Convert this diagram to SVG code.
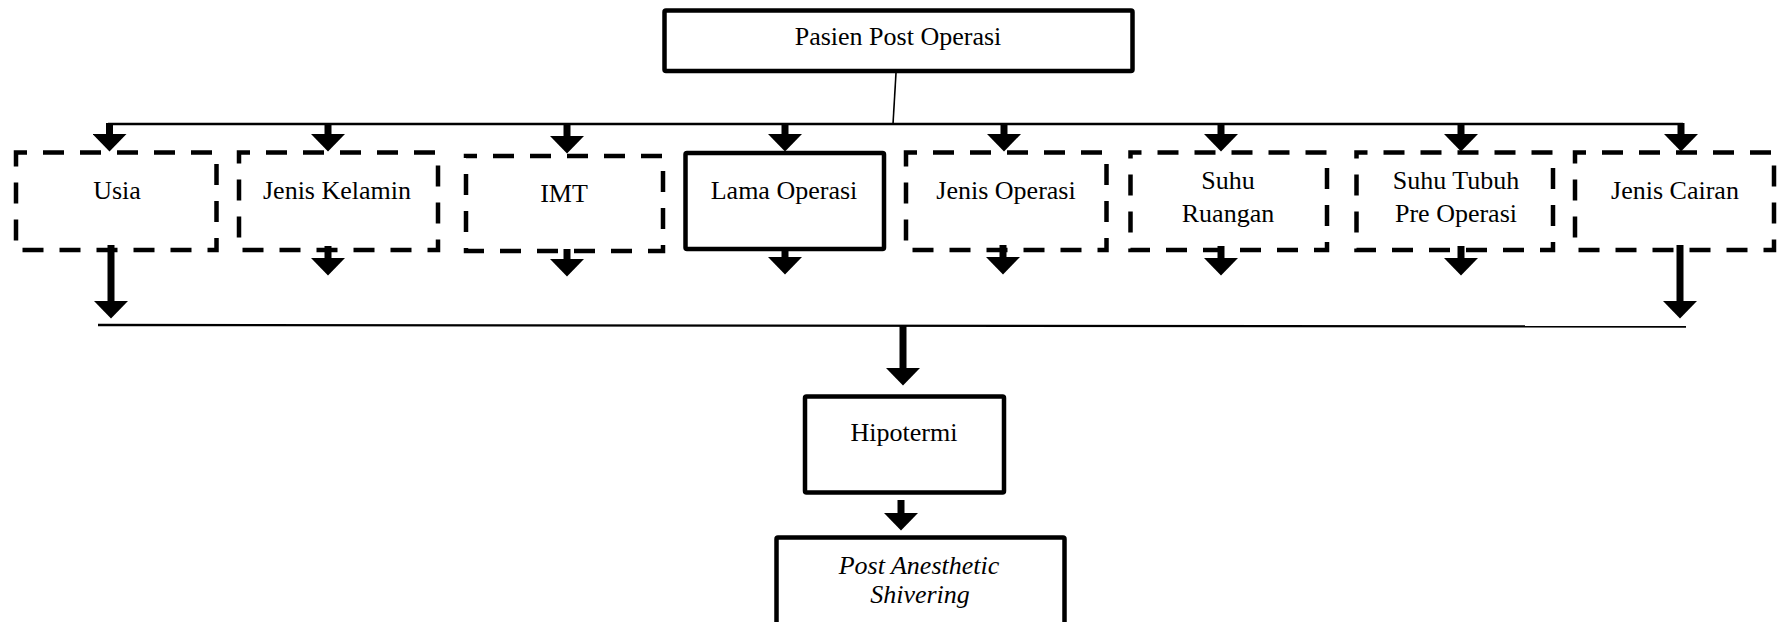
<svg xmlns="http://www.w3.org/2000/svg" width="1780" height="622" viewBox="0 0 1780 622">
<style>
.solid{fill:none;stroke:#000;stroke-width:4.5;stroke-linejoin:round}
.dash{fill:none;stroke:#000;stroke-width:4.5;stroke-dasharray:21 16;stroke-dashoffset:10}
.t{font-family:"Liberation Serif","Times New Roman",serif;font-size:26px;fill:#000;text-anchor:middle}
.i{font-style:italic}
.thin{stroke:#000;stroke-width:1.6;fill:none}
.line{stroke:#000;stroke-width:2.4;fill:none}
.arr{stroke:#000;stroke-width:7;fill:none;marker-end:url(#ah)}
</style>
<defs>
<marker id="ah" markerUnits="userSpaceOnUse" markerWidth="18" markerHeight="34" viewBox="0 0 17 33" refX="0" refY="16.5" orient="auto">
<path d="M0,0 L17,16.5 L0,33 z" fill="#000"/>
</marker>
</defs>
<rect width="1780" height="622" fill="#fff"/>

<g id="connectors">
<line class="thin" x1="896" y1="73" x2="893" y2="124"/>
<line class="line" x1="108" y1="124" x2="1683" y2="124"/>
<line class="arr" x1="109.5" y1="123" x2="109.5" y2="134"/>
<line class="arr" x1="328" y1="123" x2="328" y2="134"/>
<line class="arr" x1="567" y1="123" x2="567" y2="136"/>
<line class="arr" x1="785" y1="123" x2="785" y2="134"/>
<line class="arr" x1="1004" y1="123" x2="1004" y2="134"/>
<line class="arr" x1="1221" y1="123" x2="1221" y2="134"/>
<line class="arr" x1="1461" y1="123" x2="1461" y2="134"/>
<line class="arr" x1="1681" y1="123" x2="1681" y2="134"/>

<line class="arr" x1="111" y1="245" x2="111" y2="301"/>
<line class="arr" x1="328" y1="246" x2="328" y2="258"/>
<line class="arr" x1="567" y1="249" x2="567" y2="259"/>
<line class="arr" x1="785" y1="247" x2="785" y2="257"/>
<line class="arr" x1="1003" y1="245" x2="1003" y2="257"/>
<line class="arr" x1="1221" y1="246" x2="1221" y2="258"/>
<line class="arr" x1="1461" y1="246" x2="1461" y2="258"/>
<line class="arr" x1="1680" y1="245" x2="1680" y2="301"/>

<line class="line" x1="98" y1="325" x2="1686" y2="326.5"/>
<line class="arr" x1="903" y1="325" x2="903" y2="368"/>
<line class="arr" x1="901" y1="500" x2="901" y2="513"/>
</g>

<g id="pasien">
<rect class="solid" x="664.5" y="10.5" width="468" height="60.5" rx="1.5"/>
<text class="t" x="898" y="45">Pasien Post Operasi</text>
</g>
<g id="usia">
<rect class="dash" x="16" y="152.5" width="200.5" height="97.5"/>
<text class="t" x="117" y="199">Usia</text>
</g>
<g id="jenis-kelamin">
<rect class="dash" x="239" y="152.5" width="199" height="97.5"/>
<text class="t" x="337" y="199">Jenis Kelamin</text>
</g>
<g id="imt">
<rect class="dash" x="466" y="156" width="197" height="95"/>
<text class="t" x="564" y="202">IMT</text>
</g>
<g id="lama-operasi">
<rect class="solid" x="685.5" y="153" width="198.5" height="96" rx="1.5"/>
<text class="t" x="784" y="199">Lama Operasi</text>
</g>
<g id="jenis-operasi">
<rect class="dash" x="906" y="152.5" width="200.5" height="97.5"/>
<text class="t" x="1006" y="199">Jenis Operasi</text>
</g>
<g id="suhu-ruangan">
<rect class="dash" x="1130.5" y="152.5" width="196.5" height="97.5"/>
<text class="t" x="1228" y="189">Suhu</text>
<text class="t" x="1228" y="222">Ruangan</text>
</g>
<g id="suhu-tubuh">
<rect class="dash" x="1356.5" y="152.5" width="196.5" height="97.5"/>
<text class="t" x="1456" y="189">Suhu Tubuh</text>
<text class="t" x="1456" y="222">Pre Operasi</text>
</g>
<g id="jenis-cairan">
<rect class="dash" x="1575" y="152.5" width="199" height="97.5"/>
<text class="t" x="1675" y="199">Jenis Cairan</text>
</g>
<g id="hipotermi">
<rect class="solid" x="805" y="396.5" width="199" height="96" rx="1.5"/>
<text class="t" x="904" y="441">Hipotermi</text>
</g>
<g id="post-anesthetic-shivering">
<rect class="solid" x="776.5" y="537.5" width="288" height="100" rx="1.5"/>
<text class="t i" x="919" y="574">Post Anesthetic</text>
<text class="t i" x="920" y="603">Shivering</text>
</g>
</svg>
